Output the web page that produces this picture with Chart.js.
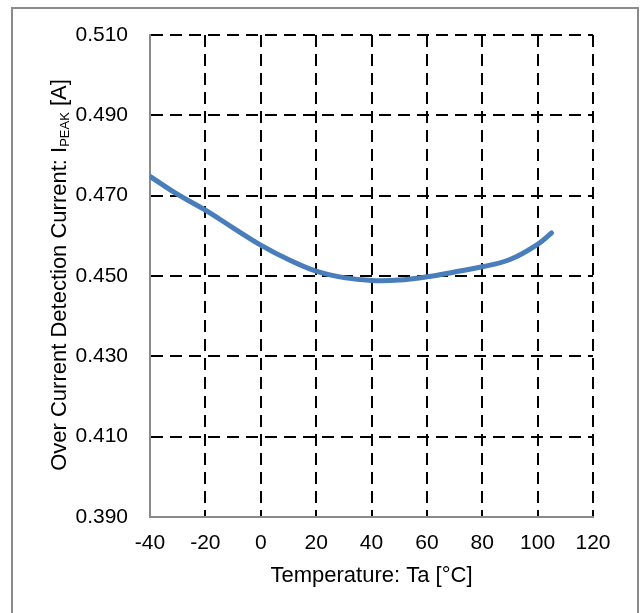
<!DOCTYPE html>
<html>
<head>
<meta charset="utf-8">
<script src="https://cdn.jsdelivr.net/npm/chart.js@4/dist/chart.umd.min.js"></script>
<style>
    body { margin: 0; background: #fff; }
    #wrap { position: relative; width: 641px; height: 613px; overflow: hidden; }
    #frame {
        position: absolute; left: 11px; top: 7px;
        width: 624px; height: 700px;
        border: 2px solid #8a8a8a;
    }
    #chart { position: absolute; left: 0; top: 0; }
</style>
</head>
<body>
<div id="wrap">
    <div id="frame"></div>
    <canvas id="chart" width="641" height="613"></canvas>
</div>
<script>
// Ambient temperature (°C) vs over current detection current (A)
const temperatures = [-40, -30, -20, -10, 0, 10, 20, 30, 40, 50, 60, 70, 80, 90, 100, 105];
const peakCurrent = [0.4748, 0.4703, 0.4664, 0.4620, 0.4577, 0.4541, 0.4512, 0.4496, 0.4489, 0.4490, 0.4498, 0.4510, 0.4523, 0.4541, 0.4579, 0.4607];

const xMin = -40, xMax = 120, xStep = 20;
const yMin = 0.390, yMax = 0.510, yStep = 0.020;

const FONT = 'Liberation Sans, Arial, sans-serif';

// y-axis title with the PEAK subscript, drawn by hand
const yTitlePlugin = {
    id: 'yTitle',
    afterDraw(chart) {
        const ctx = chart.ctx;
        const main = '22px ' + FONT;
        const sub = '13px ' + FONT;
        const parts = [
            { text: 'Over Current Detection Current: I', font: main, dy: 0 },
            { text: 'PEAK', font: sub, dy: 3 },
            { text: ' [A]', font: main, dy: 0 },
        ];
        ctx.save();
        let total = 0;
        parts.forEach(p => {
            ctx.font = p.font;
            p.w = ctx.measureText(p.text).width;
            total += p.w;
        });
        ctx.translate(58, 275);
        ctx.rotate(-Math.PI / 2);
        ctx.fillStyle = '#000';
        ctx.textBaseline = 'alphabetic';
        ctx.textAlign = 'left';
        let x = -total / 2;
        parts.forEach(p => {
            ctx.font = p.font;
            ctx.fillText(p.text, x, 8 + p.dy);
            x += p.w;
        });
        ctx.restore();
    }
};

new Chart(document.getElementById('chart'), {
    type: 'line',
    data: {
        datasets: [{
            data: temperatures.map((t, i) => ({ x: t, y: peakCurrent[i] })),
            borderColor: '#4a7ebb',
            borderWidth: 5,
            borderCapStyle: 'round',
            borderJoinStyle: 'round',
            pointRadius: 0,
            tension: 0.4,
            fill: false,
        }],
    },
    options: {
        responsive: false,
        animation: false,
        layout: { padding: { left: 0, top: 35, right: 48, bottom: 0 } },
        plugins: { legend: { display: false }, tooltip: { enabled: false } },
        scales: {
            x: {
                type: 'linear',
                min: xMin,
                max: xMax,
                afterFit(scale) { scale.height = 96; },
                ticks: {
                    stepSize: xStep,
                    padding: 14,
                    color: '#000',
                    font: { family: FONT, size: 21 },
                },
                grid: { color: '#000', lineWidth: 2, drawTicks: false },
                border: { color: '#8a8a8a', width: 2, dash: [12, 7] },
                title: {
                    display: true,
                    text: 'Temperature: Ta [°C]',
                    color: '#000',
                    font: { family: FONT, size: 22 },
                    padding: { top: 0, bottom: 24 },
                },
            },
            y: {
                min: yMin,
                max: yMax,
                afterFit(scale) { scale.width = 150; },
                ticks: {
                    stepSize: yStep,
                    padding: 22,
                    color: '#000',
                    font: { family: FONT, size: 21 },
                    callback: v => v.toFixed(3),
                },
                grid: { color: '#000', lineWidth: 2, drawTicks: false },
                border: { color: '#8a8a8a', width: 2, dash: [12, 7] },
            },
        },
    },
    plugins: [yTitlePlugin],
});
</script>
</body>
</html>
